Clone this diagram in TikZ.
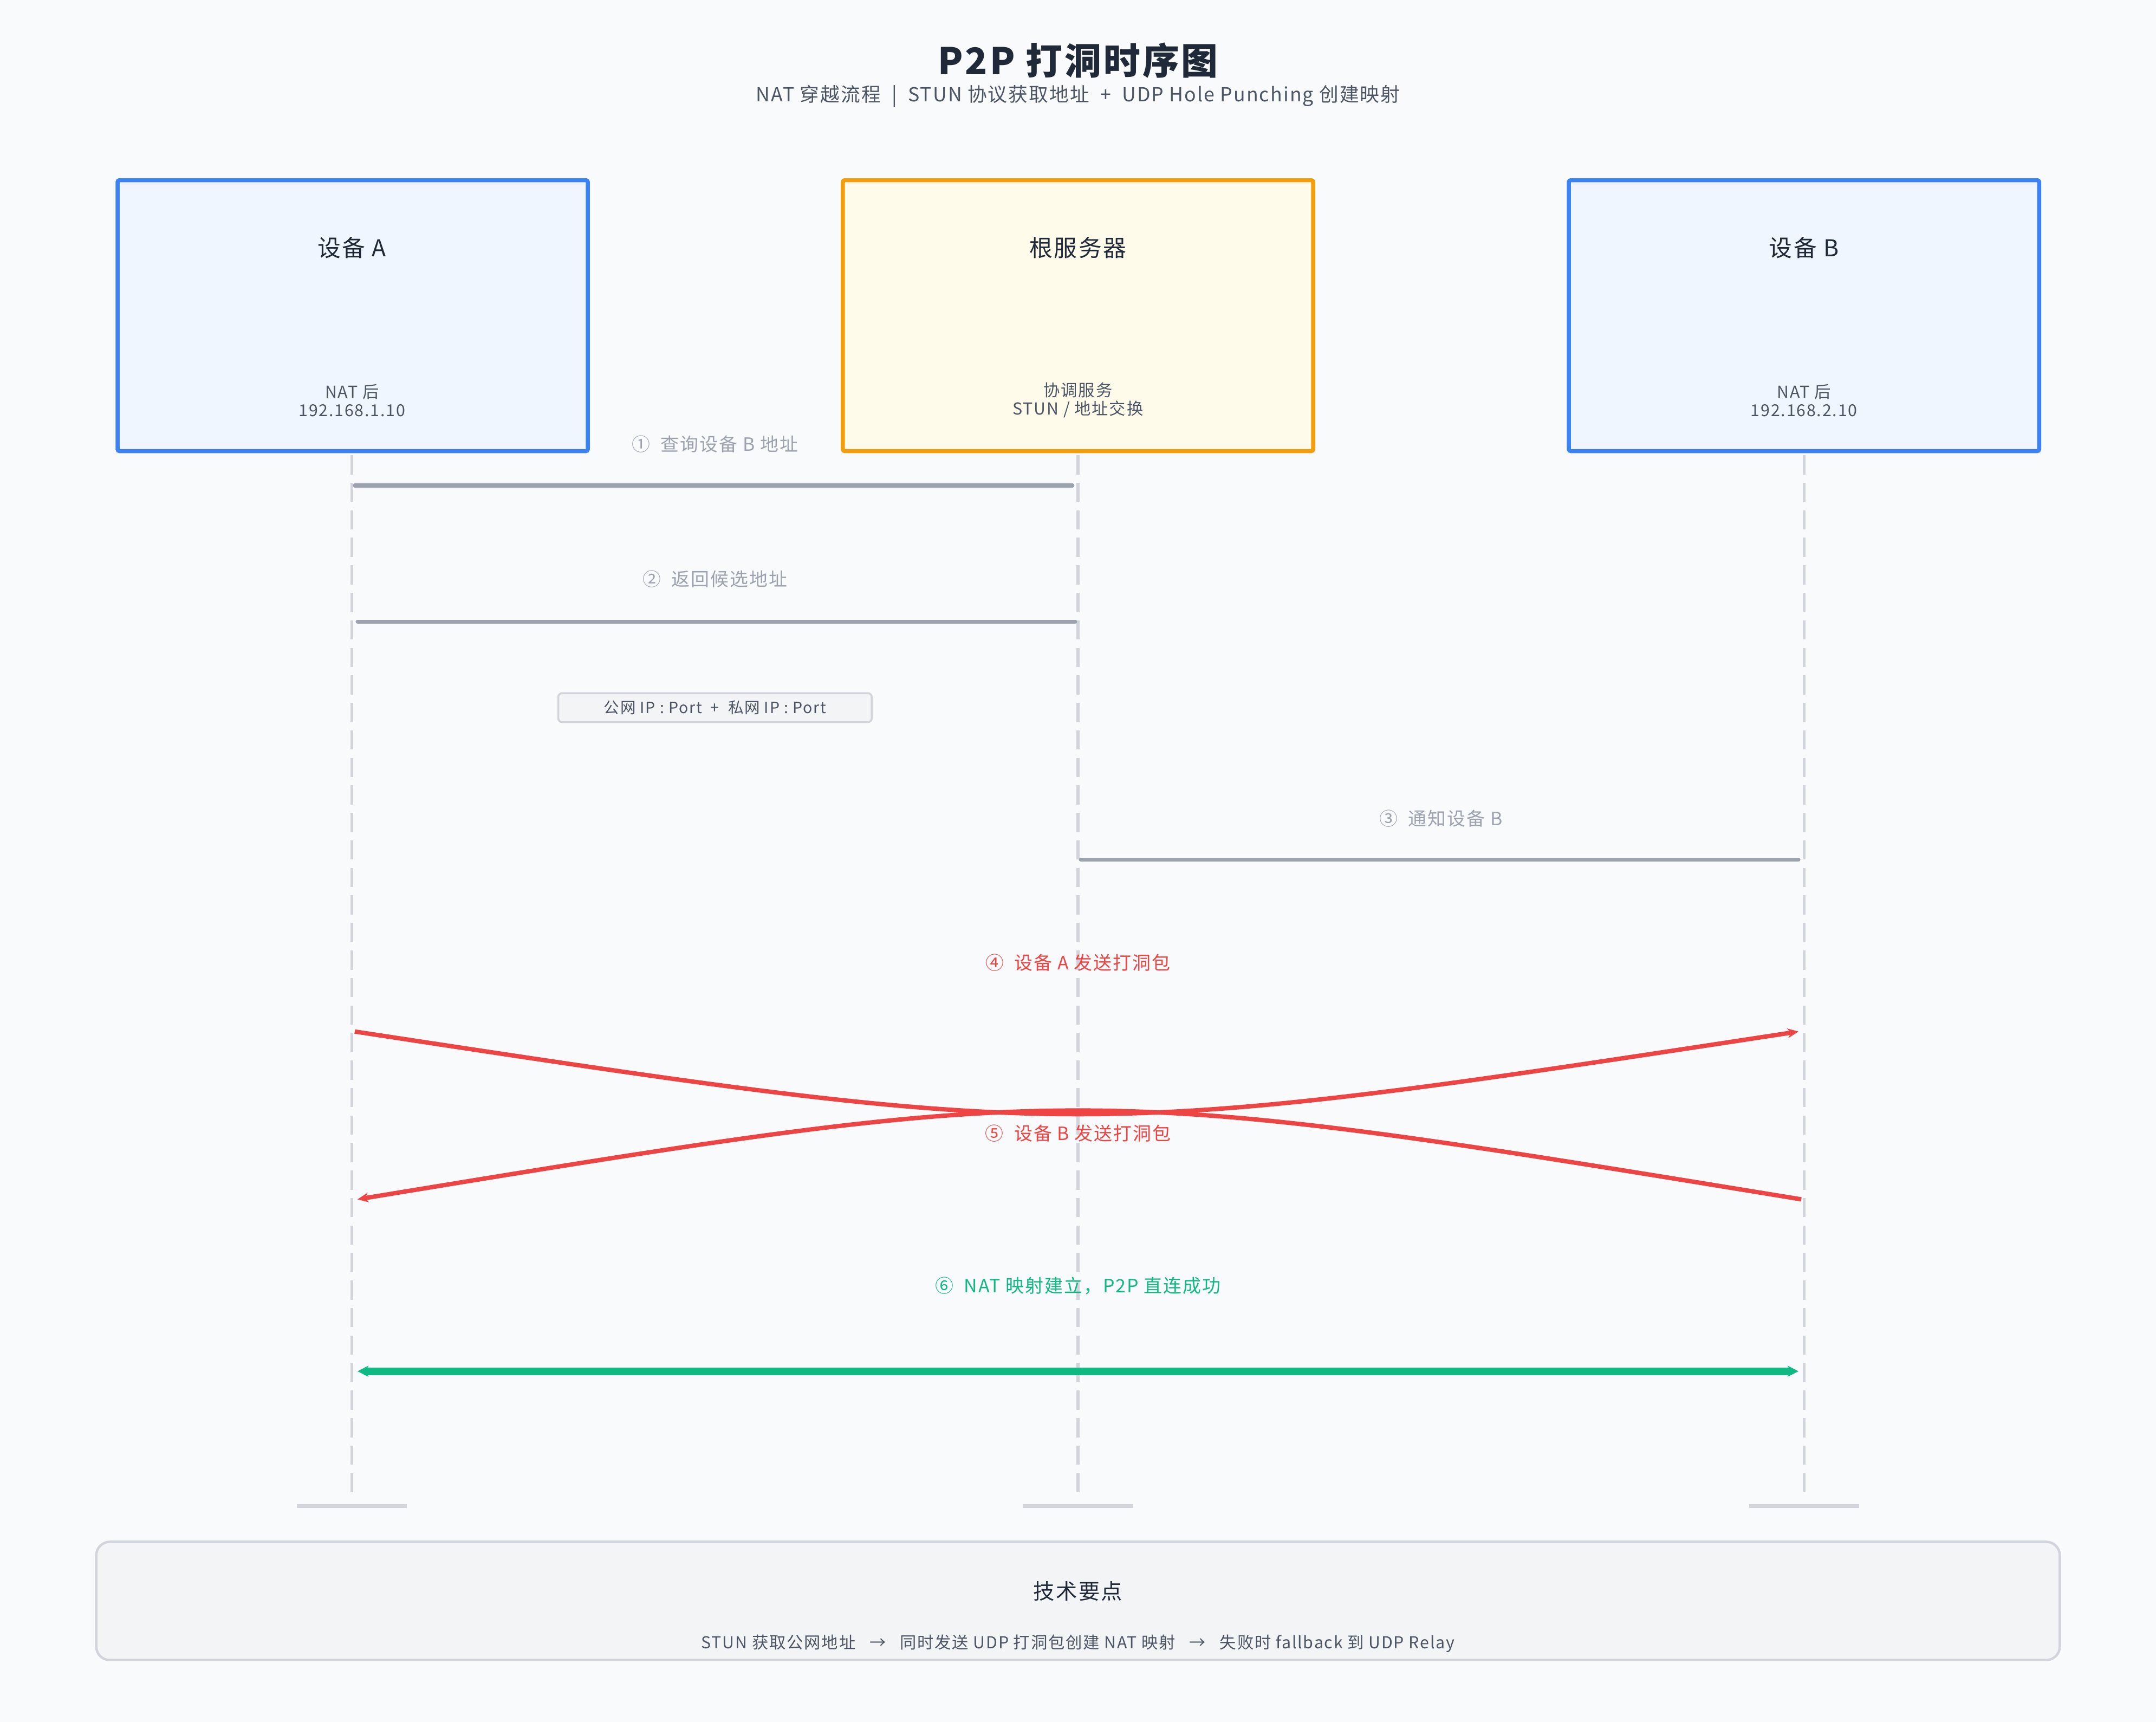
\documentclass[tikz,border=0pt]{standalone}
\usepackage{fontspec}
\setmainfont{Noto Sans CJK SC}[LetterSpace=6]
\usetikzlibrary{positioning,arrows.meta,calc}
\definecolor{bgc}{HTML}{F8FAFC}
\definecolor{blueb}{HTML}{3B82F6}
\definecolor{bluef}{HTML}{EFF6FF}
\definecolor{orgb}{HTML}{F59E0B}
\definecolor{orgf}{HTML}{FFFBEB}
\definecolor{msgc}{HTML}{9CA3AF}
\definecolor{lifec}{HTML}{D1D5DB}
\definecolor{redc}{HTML}{EF4444}
\definecolor{grnc}{HTML}{10B981}
\definecolor{txtc}{HTML}{1F2937}
\definecolor{subc}{HTML}{4B5563}
\definecolor{notef}{HTML}{F3F4F6}
\tikzset{
    actor/.style = {
        draw,
        shape=rectangle,
        minimum width=171mm,
        minimum height=98.5mm,
        line width=4.2pt,
        rounded corners=2pt
    },
    actname/.style = {font=\fontsize{24}{28}\selectfont, text=txtc},
    actinfo/.style = {font=\fontsize{17}{21}\selectfont, text=subc, align=center},
    msglabel/.style = {font=\fontsize{19}{23}\selectfont, text=msgc},
    msgline/.style = {draw=msgc, line width=4pt, line cap=round},
    lifeline/.style = {draw=lifec, line width=3pt, dash pattern=on 7mm off 3mm},
    endbar/.style = {draw=lifec, line width=3.5pt},
    punch/.style = {draw=redc, line width=4.5pt, -{Stealth[length=4mm,width=3.5mm]}},
}
\begin{document}
\begin{tikzpicture}[x=0.5mm,y=-0.5mm]
    \fill[bgc] (0,0) rectangle (1568,1252);
    \useasboundingbox (0,0) rectangle (1568,1252);

    % title
    \node[font=\fontsize{38}{44}\selectfont\bfseries, text=txtc] (title) at (784,44) {P2P 打洞时序图};
    \node[font=\fontsize{20}{24}\selectfont, text=subc] (subtitle) at (784,70)
        {NAT 穿越流程 \ | \ STUN 协议获取地址 \ + \ UDP Hole Punching 创建映射};

    % actors
    \node[actor, draw=blueb, fill=bluef] (devA) at (256.5,229.5) {};
    \node[actor, draw=orgb, fill=orgf] (srv) at (784,229.5) {};
    \node[actor, draw=blueb, fill=bluef] (devB) at (1312,229.5) {};
    \node[actname] (devAname) at (256,180) {设备 A};
    \node[actname] (srvname) at (784,180) {根服务器};
    \node[actname] (devBname) at (1312,180) {设备 B};
    \node[actinfo] (devAinfo) at (256,291) {NAT 后\\[-2pt]192.168.1.10};
    \node[actinfo] (srvinfo) at (784,291) {协调服务\\[-2pt]STUN / 地址交换};
    \node[actinfo] (devBinfo) at (1312,291) {NAT 后\\[-2pt]192.168.2.10};

    % lifelines
    \foreach \n/\x in {a/256,s/784,b/1312} {
        \coordinate (\n top) at (\x,331);
        \coordinate (\n bot) at (\x,1090);
        \path[lifeline] (\n top) -- (\n bot);
        \path[endbar] ($(\n bot)+(-40,5)$) -- ($(\n bot)+(40,5)$);
    }

    % 1
    \coordinate (m1s) at (258,353);
    \coordinate (m1e) at (780,353);
    \node[msglabel] (m1) at (520,323) {① \ 查询设备 B 地址};
    \path[msgline] (m1s) -- (m1e);
    % 2
    \coordinate (m2s) at (782,452);
    \coordinate (m2e) at (260,452);
    \node[msglabel] (m2) at (520,421) {② \ 返回候选地址};
    \path[msgline] (m2s) -- (m2e);
    \node[draw=lifec, fill=notef, rounded corners=4pt, line width=2pt, inner sep=3pt,
        minimum width=114mm, minimum height=10.5mm,
        font=\fontsize{16}{19}\selectfont, text=subc] (cand) at (520,514.5)
        {公网 IP : Port \ + \ 私网 IP : Port};
    % 3
    \coordinate (m3s) at (786,625);
    \coordinate (m3e) at (1308,625);
    \node[msglabel] (m3) at (1048,595) {③ \ 通知设备 B};
    \path[msgline] (m3s) -- (m3e);
    % 4 and 5
    \coordinate (m4s) at (258,750);
    \coordinate (m4e) at (1308,750);
    \node[msglabel, text=redc] (m4) at (784,700) {④ \ 设备 A 发送打洞包};
    \draw[punch] (m4s) .. controls (784,830) .. (m4e);
    \coordinate (m5s) at (1310,872);
    \coordinate (m5e) at (260,872);
    \node[msglabel, text=redc] (m5) at (784,824) {⑤ \ 设备 B 发送打洞包};
    \draw[punch] (m5s) .. controls (784,786) .. (m5e);
    % 6
    \coordinate (m6s) at (260,997);
    \coordinate (m6e) at (1308,997);
    \node[msglabel, text=grnc] (m6) at (784,935) {⑥ \ NAT 映射建立，P2P 直连成功};
    \draw[draw=grnc, line width=8pt, {Stealth[length=4mm,width=4mm]}-{Stealth[length=4mm,width=4mm]}] (m6s) -- (m6e);

    % notes
    \node[draw=lifec, fill=notef, rounded corners=14pt, line width=2.5pt,
        minimum width=714mm, minimum height=43mm] (tips) at (784,1164) {};
    \node[font=\fontsize{22}{26}\selectfont, text=txtc] (tipstitle) at (784,1157) {技术要点};
    \node[font=\fontsize{17}{21}\selectfont, text=subc] (tipstext) at (784,1195)
        {STUN 获取公网地址 \ \ → \ \ 同时发送 UDP 打洞包创建 NAT 映射 \ \ → \ \ 失败时 fallback 到 UDP Relay};
\end{tikzpicture}
\end{document}
